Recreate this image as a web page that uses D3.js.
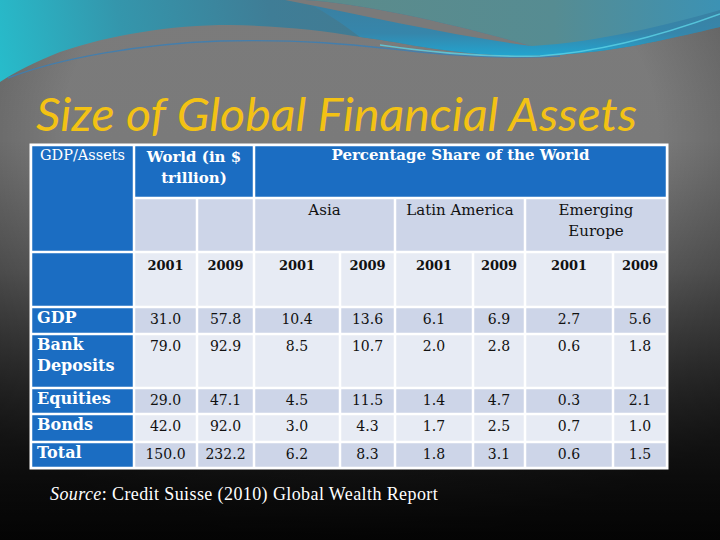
<!DOCTYPE html>
<html>
<head>
<meta charset="utf-8">
<script src="https://cdn.jsdelivr.net/npm/d3@7"></script>
<style>
  body { margin: 0; background: #000; }
  svg { display: block; }
</style>
</head>
<body>
<div id="slide"></div>
<script>
// table content
var title = "Size of Global Financial Assets";
var rowLabels = [["GDP"], ["Bank", "Deposits"], ["Equities"], ["Bonds"], ["Total"]];
var years = ["2001", "2009"];
var regions = [["Asia"], ["Latin America"], ["Emerging", "Europe"]];
var worldHeader = ["World (in $", "trillion)"];
var shareHeader = "Percentage Share of the World";
var cornerHeader = "GDP/Assets";

var world2001 = [31.0, 79.0, 29.0, 42.0, 150.0];
var world2009 = [57.8, 92.9, 47.1, 92.0, 232.2];
var asia2001 = [10.4, 8.5, 4.5, 3.0, 6.2];
var asia2009 = [13.6, 10.7, 11.5, 4.3, 8.3];
var latam2001 = [6.1, 2.0, 1.4, 1.7, 1.8];
var latam2009 = [6.9, 2.8, 4.7, 2.5, 3.1];
var emEur2001 = [2.7, 0.6, 0.3, 0.7, 0.6];
var emEur2009 = [5.6, 1.8, 2.1, 1.0, 1.5];

var sourceLabel = "Source";
var sourceText = ": Credit Suisse (2010) Global Wealth Report";

var W = 720, H = 540;
var svg = d3.select('#slide').append('svg')
  .attr('width', W)
  .attr('height', H)
  .attr('viewBox', '0 0 ' + W + ' ' + H);

var defs = svg.append('defs');

// background gradients
var bg = defs.append('linearGradient').attr('id', 'bg')
  .attr('x1', 0).attr('y1', 0).attr('x2', 0).attr('y2', 1);
[[0, '#7b7b7b'], [0.26, '#7a7a7a'], [0.5, '#5e5e5e'], [0.72, '#333'], [0.88, '#161616'], [1, '#070707']]
  .forEach(s => bg.append('stop').attr('offset', s[0]).attr('stop-color', s[1]));

var vig = defs.append('radialGradient').attr('id', 'vig')
  .attr('cx', 0.5).attr('cy', 0.25).attr('r', 0.75);
[[0, 'rgba(0,0,0,0)'], [0.55, 'rgba(0,0,0,0)'], [1, 'rgba(0,0,0,0.45)']]
  .forEach(s => vig.append('stop').attr('offset', s[0]).attr('stop-color', s[1]));

var teal = defs.append('linearGradient').attr('id', 'teal')
  .attr('gradientUnits', 'userSpaceOnUse')
  .attr('x1', 0).attr('y1', 80).attr('x2', 420).attr('y2', 0);
[[0, '#27bccb'], [0.3, '#3496ac'], [0.65, '#3f7d96'], [1, '#437a91']]
  .forEach(s => teal.append('stop').attr('offset', s[0]).attr('stop-color', s[1]));

var tealR = defs.append('linearGradient').attr('id', 'tealR')
  .attr('x1', 0).attr('y1', 0).attr('x2', 0).attr('y2', 1);
[[0, '#3b7fa0'], [0.6, '#3686ab'], [1, '#22a4cf']]
  .forEach(s => tealR.append('stop').attr('offset', s[0]).attr('stop-color', s[1]));

var tealTop = defs.append('linearGradient').attr('id', 'tealTop')
  .attr('x1', 0).attr('y1', 0).attr('x2', 1).attr('y2', 0);
[[0, '#5c8b8b'], [0.6, '#568c92'], [1, '#3c92b4']]
  .forEach(s => tealTop.append('stop').attr('offset', s[0]).attr('stop-color', s[1]));

svg.append('rect').attr('width', W).attr('height', H).attr('fill', 'url(#bg)');
svg.append('rect').attr('width', W).attr('height', H).attr('fill', 'url(#vig)');

// top swoosh
svg.append('path')
  .attr('d', 'M0,0 H720 V27 C690,34 640,46 600,51 C560,56 520,57 480,54 C430,50 400,42 360,37 C320,30 280,26 230,25 C170,25 110,35 60,52 C35,62 15,72 0,82 Z')
  .attr('fill', 'url(#teal)');
svg.append('path')
  .attr('d', 'M300,0 H720 V27 C690,34 640,46 600,51 C560,56 520,57 480,54 C430,50 400,42 360,37 C340,22 320,8 300,0 Z')
  .attr('fill', 'url(#tealR)');
svg.append('path')
  .attr('d', 'M305,0 C370,4 460,26 532,46 C600,42 670,24 720,10 V0 Z')
  .attr('fill', 'url(#tealTop)');
svg.append('path')
  .attr('d', 'M305,0 C370,4 460,26 532,46 C455,36 375,18 285,0 Z')
  .attr('fill', '#7a7a7a');
svg.append('path')
  .attr('d', 'M8,78 C60,58 140,44 220,41 C300,39 350,44 420,52 C470,57 520,58 560,56')
  .attr('fill', 'none').attr('stroke', '#3c7fb4').attr('stroke-width', 1.4).attr('opacity', 0.85);
svg.append('path')
  .attr('d', 'M380,45 C440,54 500,57 540,56 C600,52 660,36 720,14')
  .attr('fill', 'none').attr('stroke', '#5cd3e6').attr('stroke-width', 1.5).attr('opacity', 0.8);

// title
svg.append('text')
  .attr('x', 36).attr('y', 131)
  .attr('textLength', 601).attr('lengthAdjust', 'spacingAndGlyphs')
  .style('font-family', 'Lato, "Open Sans", sans-serif')
  .style('font-style', 'italic')
  .style('font-size', '46px')
  .style('fill', '#f3c214')
  .text(title);

// table layout
var colW = [103, 63, 57, 86, 55, 78, 52, 88, 54];
var rowH = [53, 54, 55, 27, 54, 26, 28, 26];
var tableX = 31, tableY = 145;
var xEdge = [tableX].concat(Array.from(d3.cumsum(colW), v => tableX + v));
var yEdge = [tableY].concat(Array.from(d3.cumsum(rowH), v => tableY + v));

var blue = '#1b6dc2', dark = '#cdd5e8', light = '#e7ebf4';
var fmt = d3.format('.1f');

var cells = [];
cells.push({r: 0, c: 0, rs: 2, cs: 1, fill: blue, lines: [cornerHeader], color: '#fff', weight: 'normal', size: 14.5, align: 'left', dy: 15});
cells.push({r: 0, c: 1, rs: 1, cs: 2, fill: blue, lines: worldHeader, color: '#fff', weight: 'bold', size: 15, dy: 17});
cells.push({r: 0, c: 3, rs: 1, cs: 6, fill: blue, lines: [shareHeader], color: '#fff', weight: 'bold', size: 15, dy: 15});
cells.push({r: 1, c: 1, rs: 1, cs: 1, fill: dark, lines: []});
cells.push({r: 1, c: 2, rs: 1, cs: 1, fill: dark, lines: []});
regions.forEach((reg, i) => {
  cells.push({r: 1, c: 3 + i * 2, rs: 1, cs: 2, fill: dark, lines: reg, color: '#111', weight: 'normal', size: 15, dy: 17});
});
cells.push({r: 2, c: 0, rs: 1, cs: 1, fill: blue, lines: []});
d3.range(8).forEach(i => {
  cells.push({r: 2, c: 1 + i, rs: 1, cs: 1, fill: light, lines: [years[i % 2]], color: '#111', weight: 'bold', size: 13, dy: 18});
});

var series = [world2001, world2009, asia2001, asia2009, latam2001, latam2009, emEur2001, emEur2009];
rowLabels.forEach((lab, j) => {
  var r = 3 + j;
  var fill = j % 2 === 0 ? dark : light;
  cells.push({r: r, c: 0, rs: 1, cs: 1, fill: blue, lines: lab, color: '#fff', weight: 'bold', size: 16, align: 'left', dy: 16});
  series.forEach((s, i) => {
    cells.push({r: r, c: 1 + i, rs: 1, cs: 1, fill: fill, lines: [fmt(s[j])], color: '#111', weight: 'normal', size: 14, dy: 17});
  });
});

var table = svg.append('g');
table.append('rect')
  .attr('x', tableX - 1.5).attr('y', tableY - 1.5)
  .attr('width', xEdge[9] - tableX + 3).attr('height', yEdge[8] - tableY + 3)
  .attr('fill', '#fff');

var gap = 1.25;
var cell = table.selectAll('g.cell')
  .data(cells)
  .enter().append('g')
  .attr('class', 'cell');

cell.append('rect')
  .attr('x', d => xEdge[d.c] + gap)
  .attr('y', d => yEdge[d.r] + gap)
  .attr('width', d => xEdge[d.c + d.cs] - xEdge[d.c] - 2 * gap)
  .attr('height', d => yEdge[d.r + d.rs] - yEdge[d.r] - 2 * gap)
  .attr('fill', d => d.fill);

cell.filter(d => d.lines.length > 0)
  .append('text')
  .attr('x', d => d.align === 'left' ? xEdge[d.c] + (d.r === 0 ? 9 : 6) : (xEdge[d.c] + xEdge[d.c + d.cs]) / 2)
  .attr('y', d => yEdge[d.r] + d.dy)
  .attr('text-anchor', d => d.align === 'left' ? 'start' : 'middle')
  .style('font-family', '"DejaVu Serif", serif')
  .style('font-size', d => d.size + 'px')
  .style('font-weight', d => d.weight)
  .style('fill', d => d.color)
  .each(function(d) {
    var t = d3.select(this);
    d.lines.forEach((ln, k) => {
      t.append('tspan')
        .attr('x', t.attr('x'))
        .attr('dy', k === 0 ? 0 : 21)
        .text(ln);
    });
  });

// source note
var src = svg.append('text')
  .attr('x', 50).attr('y', 500)
  .style('font-family', '"Liberation Serif", serif')
  .style('font-size', '18px')
  .style('letter-spacing', '0.4px')
  .style('fill', '#fff');
src.append('tspan').style('font-style', 'italic').text(sourceLabel);
src.append('tspan').text(sourceText);
</script>
</body>
</html>
